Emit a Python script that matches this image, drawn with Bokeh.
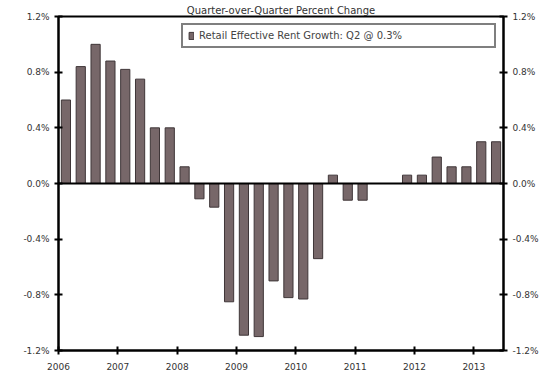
from bokeh.plotting import figure
from bokeh.models import (ColumnDataSource, FixedTicker, PrintfTickFormatter, LinearAxis,
                          Span, Legend, LegendItem, Range1d)
from bokeh.embed import file_html
from bokeh.resources import INLINE

# Data: retail effective rent growth, quarter-over-quarter percent change
years = [2006] * 4 + [2007] * 4 + [2008] * 4 + [2009] * 4 + [2010] * 4 + [2011] * 4 + [2012] * 4 + [2013] * 2
quarters = [1, 2, 3, 4] * 7 + [1, 2]
growth = [0.60, 0.84, 1.00, 0.88,
          0.82, 0.75, 0.40, 0.40,
          0.12, -0.11, -0.17, -0.85,
          -1.09, -1.10, -0.70, -0.82,
          -0.83, -0.54, 0.06, -0.12,
          -0.12, 0.00, 0.00, 0.06,
          0.06, 0.19, 0.12, 0.12,
          0.30, 0.30]
year_ticks = [2006, 2007, 2008, 2009, 2010, 2011, 2012, 2013]
pct_ticks = [-1.2, -0.8, -0.4, 0.0, 0.4, 0.8, 1.2]
title_text = "Quarter-over-Quarter Percent Change"
legend_text = "Retail Effective Rent Growth: Q2 @ 0.3%"

xpos = [y + (q - 0.5) / 4 for y, q in zip(years, quarters)]
src = ColumnDataSource(dict(x=xpos, top=growth))

FONT = "DejaVu Sans"

p = figure(width=557, height=377, output_backend="svg", toolbar_location=None,
           x_range=Range1d(2006, 2013.5), y_range=Range1d(-1.2, 1.2),
           min_border_left=58, min_border_right=54, min_border_top=16, min_border_bottom=27,
           y_axis_location=None, title=title_text)
p.title.align = "center"
p.title.text_font = FONT
p.title.text_font_size = "10px"
p.title.text_font_style = "normal"
p.title.text_color = "#333333"
p.title.offset = 0
p.title.standoff = 2
p.background_fill_color = "white"
p.border_fill_color = "white"
p.outline_line_color = "black"
p.outline_line_width = 2
p.xgrid.visible = False
p.ygrid.visible = False

bars = p.vbar(x="x", top="top", bottom=0, width=0.155, source=src,
              fill_color="#776769", line_color="#3f3638", line_width=1)

p.add_layout(Span(location=0, dimension="width", line_color="black", line_width=2))

# x axis
xa = p.xaxis[0]
xa.ticker = FixedTicker(ticks=year_ticks)
xa.formatter = PrintfTickFormatter(format="%d")
xa.minor_tick_line_color = None

for side in ("left", "right"):
    ax = LinearAxis(ticker=FixedTicker(ticks=pct_ticks),
                    formatter=PrintfTickFormatter(format="%.1f%%"))
    p.add_layout(ax, side)

for ax in p.axis:
    ax.axis_line_color = "black"
    ax.axis_line_width = 2
    ax.major_tick_line_color = "black"
    ax.major_tick_line_width = 2
    ax.major_tick_in = 4
    ax.major_tick_out = 4
    ax.minor_tick_line_color = None
    ax.major_label_text_font = FONT
    ax.major_label_text_font_size = "9px"
    ax.major_label_text_color = "#333333"
    ax.major_label_standoff = 5
xa.major_label_standoff = 8

legend = Legend(items=[LegendItem(label=legend_text, renderers=[bars])],
                location="top_right", border_line_color="black", border_line_width=2,
                label_text_font=FONT, label_text_font_size="10px",
                glyph_width=6, glyph_height=9, padding=5, margin=7,
                label_standoff=5, label_width=290, spacing=0)
legend.label_height = 9
p.add_layout(legend)

open("out.html", "w").write(file_html(p, INLINE))
